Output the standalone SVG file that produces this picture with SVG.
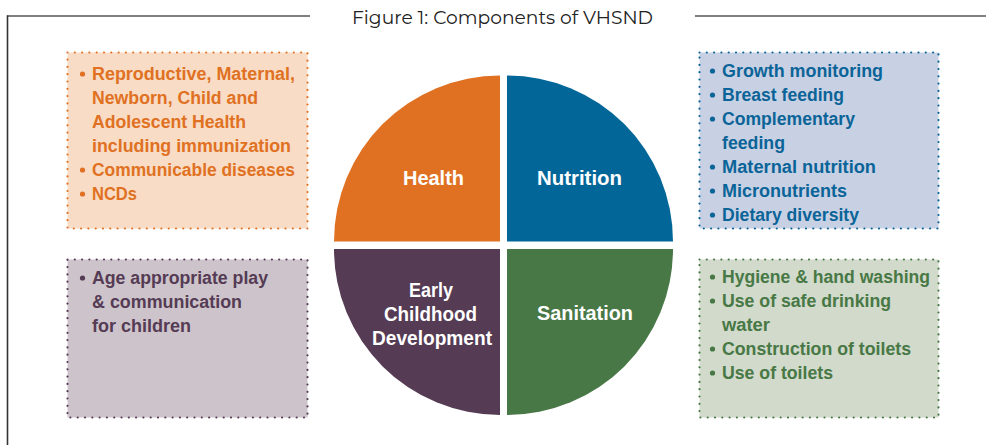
<svg xmlns="http://www.w3.org/2000/svg" width="986" height="445" viewBox="0 0 986 445">
<style>
.title{font-family:"Montserrat","Open Sans","Liberation Sans",sans-serif;font-size:18px;fill:#222222}
.t{font-family:"Liberation Sans","Arial",sans-serif;font-weight:bold;font-size:18px}
.q{font-family:"Liberation Sans","Arial",sans-serif;font-weight:bold;font-size:21px;fill:#ffffff;text-anchor:middle}
.box{stroke-width:2.2;stroke-linecap:round;stroke-dasharray:0 7.3}
.or{fill:#e07122}.bl{fill:#0b6498}.pu{fill:#553b54}.gr{fill:#487845}
</style>
<g id="frame">
<line x1="7.5" y1="16" x2="310" y2="16" stroke="#555" stroke-width="1.4"/>
<line x1="695" y1="16" x2="986" y2="16" stroke="#555" stroke-width="1.4"/>
<line x1="7.5" y1="15.3" x2="7.5" y2="445" stroke="#333" stroke-width="1.6"/>
<text class="title" x="352" y="24" textLength="301" lengthAdjust="spacingAndGlyphs">Figure 1: Components of VHSND</text>
</g>
<g id="connectors"></g>
<g id="health">
<path d="M500,241.5 L334,241.5 A166,166 0 0 1 500,75.5 Z" fill="#e07122"/>
<text class="q" x="433.5" y="185" textLength="61" lengthAdjust="spacingAndGlyphs">Health</text>
</g>
<g id="nutrition">
<path d="M507,241.5 L507,75.5 A166,166 0 0 1 673,241.5 Z" fill="#036699"/>
<text class="q" x="579.5" y="185" textLength="85" lengthAdjust="spacingAndGlyphs">Nutrition</text>
</g>
<g id="ecd">
<path d="M500,249 L500,415 A166,166 0 0 1 334,249 Z" fill="#553b54"/>
<text class="q" x="431" y="297" textLength="44" lengthAdjust="spacingAndGlyphs">Early</text>
<text class="q" x="430.5" y="321" textLength="93" lengthAdjust="spacingAndGlyphs">Childhood</text>
<text class="q" x="432" y="345" textLength="120" lengthAdjust="spacingAndGlyphs">Development</text>
</g>
<g id="sanitation">
<path d="M507,249 L673,249 A166,166 0 0 1 507,415 Z" fill="#487845"/>
<text class="q" x="585" y="320" textLength="96" lengthAdjust="spacingAndGlyphs">Sanitation</text>
</g>
<g id="health-box">
<rect class="box" x="67.5" y="52.5" width="240" height="176" fill="#f9dcc5" stroke="#e07122"/>
<circle class="or" cx="82.5" cy="74" r="2.6"/>
<circle class="or" cx="82.5" cy="170" r="2.6"/>
<circle class="or" cx="82.5" cy="194" r="2.6"/>
<text class="t or" x="92" y="80" textLength="203" lengthAdjust="spacingAndGlyphs">Reproductive, Maternal,</text>
<text class="t or" x="92" y="104" textLength="166" lengthAdjust="spacingAndGlyphs">Newborn, Child and</text>
<text class="t or" x="92" y="128" textLength="154" lengthAdjust="spacingAndGlyphs">Adolescent Health</text>
<text class="t or" x="92" y="152" textLength="199" lengthAdjust="spacingAndGlyphs">including immunization</text>
<text class="t or" x="92" y="176" textLength="203" lengthAdjust="spacingAndGlyphs">Communicable diseases</text>
<text class="t or" x="92" y="200" textLength="45" lengthAdjust="spacingAndGlyphs">NCDs</text>
</g>
<g id="nutrition-box">
<rect class="box" x="699.5" y="52.5" width="239" height="176" fill="#c8d1e4" stroke="#0b6498"/>
<circle class="bl" cx="712.5" cy="71" r="2.6"/>
<circle class="bl" cx="712.5" cy="95" r="2.6"/>
<circle class="bl" cx="712.5" cy="119" r="2.6"/>
<circle class="bl" cx="712.5" cy="167" r="2.6"/>
<circle class="bl" cx="712.5" cy="191" r="2.6"/>
<circle class="bl" cx="712.5" cy="215" r="2.6"/>
<text class="t bl" x="722" y="77" textLength="161" lengthAdjust="spacingAndGlyphs">Growth monitoring</text>
<text class="t bl" x="722" y="101" textLength="122" lengthAdjust="spacingAndGlyphs">Breast feeding</text>
<text class="t bl" x="722" y="125" textLength="133" lengthAdjust="spacingAndGlyphs">Complementary</text>
<text class="t bl" x="722" y="149" textLength="63" lengthAdjust="spacingAndGlyphs">feeding</text>
<text class="t bl" x="722" y="173" textLength="154" lengthAdjust="spacingAndGlyphs">Maternal nutrition</text>
<text class="t bl" x="722" y="197" textLength="125" lengthAdjust="spacingAndGlyphs">Micronutrients</text>
<text class="t bl" x="722" y="221" textLength="137" lengthAdjust="spacingAndGlyphs">Dietary diversity</text>
</g>
<g id="ecd-box">
<rect class="box" x="67.5" y="259.5" width="240" height="158" fill="#cdc4cb" stroke="#553b54"/>
<circle class="pu" cx="82.5" cy="278" r="2.6"/>
<text class="t pu" x="92" y="284" textLength="176" lengthAdjust="spacingAndGlyphs">Age appropriate play</text>
<text class="t pu" x="92" y="308" textLength="150" lengthAdjust="spacingAndGlyphs">&amp; communication</text>
<text class="t pu" x="92" y="332" textLength="99" lengthAdjust="spacingAndGlyphs">for children</text>
</g>
<g id="sanitation-box">
<rect class="box" x="699.5" y="259.5" width="239" height="158" fill="#d1dacb" stroke="#487845"/>
<circle class="gr" cx="712.5" cy="277" r="2.6"/>
<circle class="gr" cx="712.5" cy="301" r="2.6"/>
<circle class="gr" cx="712.5" cy="349" r="2.6"/>
<circle class="gr" cx="712.5" cy="373" r="2.6"/>
<text class="t gr" x="722" y="283" textLength="208" lengthAdjust="spacingAndGlyphs">Hygiene &amp; hand washing</text>
<text class="t gr" x="722" y="307" textLength="169" lengthAdjust="spacingAndGlyphs">Use of safe drinking</text>
<text class="t gr" x="722" y="331" textLength="48" lengthAdjust="spacingAndGlyphs">water</text>
<text class="t gr" x="722" y="355" textLength="189" lengthAdjust="spacingAndGlyphs">Construction of toilets</text>
<text class="t gr" x="722" y="379" textLength="111" lengthAdjust="spacingAndGlyphs">Use of toilets</text>
</g>
</svg>
